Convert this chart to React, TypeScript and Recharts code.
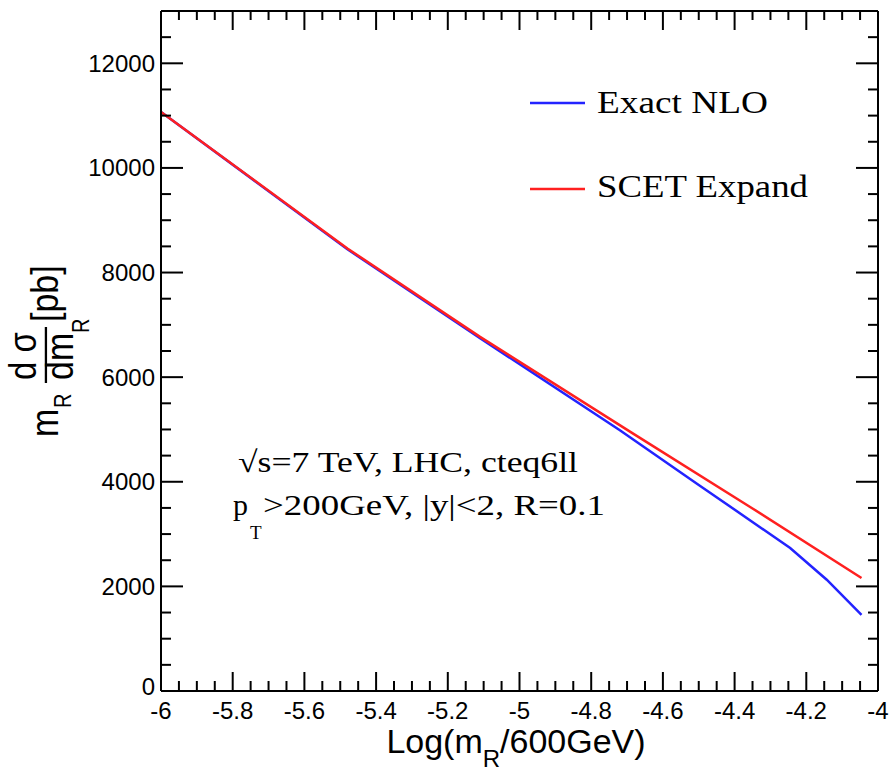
import React from 'react';
import { LineChart, Line, XAxis, YAxis, Legend } from 'recharts';

// values
const exactX = [-6, -5.48, -5.11, -4.72, -4.5, -4.245, -4.143, -4.046];
const exactY = [11070, 8445, 6745, 4985, 3940, 2735, 2128, 1457];
const scetX = [-6, -5.48, -5.11, -4.683, -4.35, -4.046];
const scetY = [11070, 8460, 6770, 4920, 3490, 2160];

const exactData = exactX.map((x, i) => ({ x, y: exactY[i] }));
const scetData = scetX.map((x, i) => ({ x, y: scetY[i] }));

const xTicks = Array.from({ length: 41 }, (_, i) => Number((-6 + i * 0.05).toFixed(2)));
const yTicks = Array.from({ length: 27 }, (_, i) => i * 500);

const W = 890;
const H = 771;
const SANS = '"Liberation Sans", Arial, sans-serif';
const SERIF = '"Liberation Serif", "Times New Roman", serif';

const isMajorX = (v: number) => Math.abs(v * 5 - Math.round(v * 5)) < 1e-6;
const isMajorY = (v: number) => v % 2000 === 0;

const BottomTick = (p: any) => {
  const v = p.payload.value;
  const major = isMajorX(v);
  return (
    <g>
      <line x1={p.x} x2={p.x} y1={p.y} y2={p.y - (major ? 19 : 10)} stroke="#000" strokeWidth={2} />
      {major && (
        <text x={p.x} y={p.y + 28} textAnchor="middle" fontSize={24} fontFamily={SANS} fill="#000">
          {String(Number(v.toFixed(2)))}
        </text>
      )}
    </g>
  );
};

const TopTick = (p: any) => {
  const major = isMajorX(p.payload.value);
  return <line x1={p.x} x2={p.x} y1={p.y} y2={p.y + (major ? 19 : 9)} stroke="#000" strokeWidth={2} />;
};

const LeftTick = (p: any) => {
  const v = p.payload.value;
  const major = isMajorY(v);
  // the "0" label sits a little higher so it clears the x labels
  const ly = v === 0 ? p.y - 4 : p.y;
  return (
    <g>
      <line x1={p.x} x2={p.x + (major ? 22 : 10)} y1={p.y} y2={p.y} stroke="#000" strokeWidth={2} />
      {major && (
        <text x={p.x - 6} y={ly} dy="0.35em" textAnchor="end" fontSize={24} fontFamily={SANS} fill="#000">
          {v}
        </text>
      )}
    </g>
  );
};

const RightTick = (p: any) => {
  const major = isMajorY(p.payload.value);
  return <line x1={p.x} x2={p.x - (major ? 22 : 10)} y1={p.y} y2={p.y} stroke="#000" strokeWidth={2} />;
};

const LegendBox = (props: any) => {
  const items = props.payload || [];
  const rows = [
    { ly: 43, ty: 53, len: 171 },
    { ly: 129, ty: 137, len: 211 },
  ];
  return (
    <svg width={320} height={150}>
      {items.map((it: any, i: number) => (
        <g key={it.value}>
          <line x1={10} x2={65} y1={rows[i].ly} y2={rows[i].ly} stroke={it.color} strokeWidth={2.5} />
          <text
            x={77}
            y={rows[i].ty}
            fontSize={32}
            fontFamily={SERIF}
            textLength={rows[i].len}
            lengthAdjust="spacingAndGlyphs"
            fill="#000"
          >
            {it.value}
          </text>
        </g>
      ))}
    </svg>
  );
};

const axisStyle = { stroke: '#000', strokeWidth: 2 };

export default function App() {
  return (
    <div style={{ position: 'absolute', left: 0, top: 0, width: W, height: H, background: '#fff' }}>
      <LineChart width={W} height={H} margin={{ top: 10, right: 11, bottom: 79, left: 160 }}>
        <XAxis
          xAxisId="b"
          type="number"
          dataKey="x"
          domain={[-6, -4]}
          ticks={xTicks}
          interval={0}
          height={1}
          tickSize={0}
          tickMargin={0}
          tickLine={false}
          axisLine={axisStyle}
          tick={BottomTick}
          allowDataOverflow
        />
        <XAxis
          xAxisId="t"
          orientation="top"
          type="number"
          dataKey="x"
          domain={[-6, -4]}
          ticks={xTicks}
          interval={0}
          height={1}
          tickSize={0}
          tickMargin={0}
          tickLine={false}
          axisLine={axisStyle}
          tick={TopTick}
          allowDataOverflow
        />
        <YAxis
          yAxisId="l"
          type="number"
          domain={[0, 13000]}
          ticks={yTicks}
          interval={0}
          width={1}
          tickSize={0}
          tickMargin={0}
          tickLine={false}
          axisLine={axisStyle}
          tick={LeftTick}
          allowDataOverflow
        />
        <YAxis
          yAxisId="r"
          orientation="right"
          type="number"
          domain={[0, 13000]}
          ticks={yTicks}
          interval={0}
          width={1}
          tickSize={0}
          tickMargin={0}
          tickLine={false}
          axisLine={axisStyle}
          tick={RightTick}
          allowDataOverflow
        />
        <Line
          xAxisId="b"
          yAxisId="l"
          data={exactData}
          dataKey="y"
          name="Exact NLO"
          type="linear"
          stroke="#2323ff"
          strokeWidth={2.5}
          dot={false}
          isAnimationActive={false}
        />
        <Line
          xAxisId="b"
          yAxisId="l"
          data={scetData}
          dataKey="y"
          name="SCET Expand"
          type="linear"
          stroke="#ff2020"
          strokeWidth={2.5}
          dot={false}
          isAnimationActive={false}
        />
        <Legend
          layout="vertical"
          align="center"
          verticalAlign="middle"
          content={LegendBox}
          wrapperStyle={{ left: 520, top: 60, width: 320, height: 150 }}
        />
      </LineChart>
      <svg
        width={W}
        height={H}
        style={{ position: 'absolute', left: 0, top: 0, pointerEvents: 'none' }}
      >
        {/* y title: m_R dσ/dm_R [pb], rotated */}
        <g transform="translate(58,437) scale(1.15,1) rotate(-90)" fontFamily={SANS} fill="#000">
          <text x={0} y={0} fontSize={34}>m</text>
          <text x={29} y={11} fontSize={20}>R</text>
          <text x={81} y={-19} fontSize={33} textAnchor="middle">d σ</text>
          <line x1={54} x2={110} y1={-10.5} y2={-10.5} stroke="#000" strokeWidth={2} />
          <text x={57} y={13} fontSize={34}>dm</text>
          <text x={104} y={27} fontSize={20}>R</text>
          <text x={115} y={0} fontSize={34}>[pb]</text>
        </g>
        {/* x title */}
        <text x={516} y={753} textAnchor="middle" fontSize={34} fontFamily={SANS} fill="#000">
          Log(m<tspan dy={14} fontSize={24}>R</tspan>
          <tspan dy={-14}>/600GeV)</tspan>
        </text>
        {/* annotations */}
        <text
          x={238}
          y={472}
          fontSize={30}
          fontFamily={SERIF}
          textLength={340}
          lengthAdjust="spacingAndGlyphs"
          fill="#000"
        >
          √s=7 TeV, LHC, cteq6ll
        </text>
        <text x={233} y={515} fontSize={30} fontFamily={SERIF} fill="#000">p</text>
        <text x={250} y={539} fontSize={19} fontFamily={SERIF} fill="#000">T</text>
        <text
          x={263}
          y={515}
          fontSize={30}
          fontFamily={SERIF}
          textLength={342}
          lengthAdjust="spacingAndGlyphs"
          fill="#000"
        >
          &gt;200GeV, |y|&lt;2, R=0.1
        </text>
      </svg>
    </div>
  );
}
